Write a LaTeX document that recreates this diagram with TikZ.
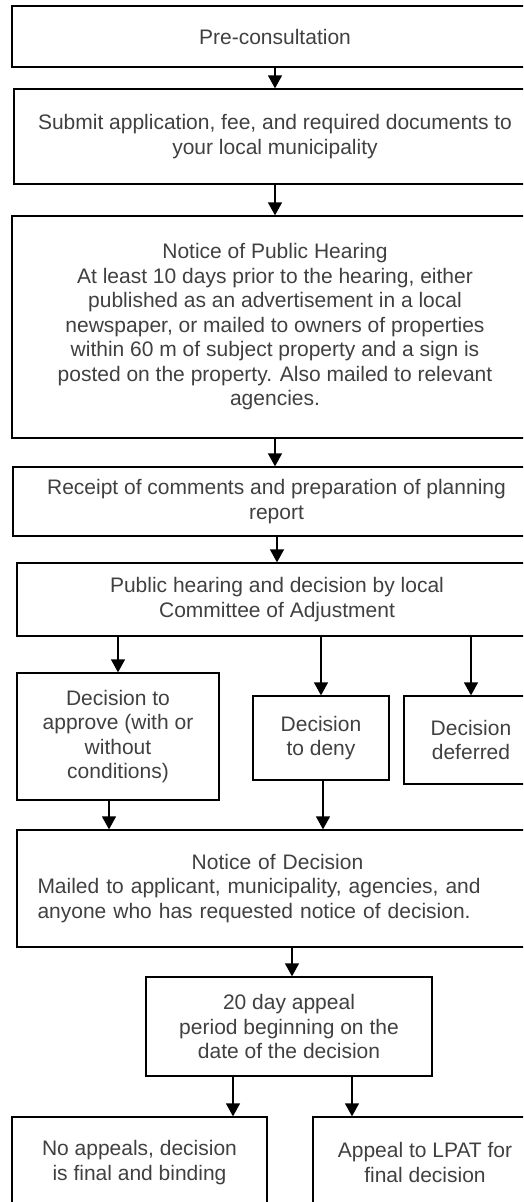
\documentclass[tikz,border=0pt]{standalone}
\usepackage{fontspec}
\setmainfont{Liberation Sans}
\usetikzlibrary{arrows.meta}
\definecolor{txtgray}{RGB}{64,64,64}
\tikzset{
  box/.style={draw,line width=1.3pt,align=center,inner sep=0pt,text=txtgray,
    font=\fontsize{21}{24.5}\selectfont},
  arr/.style={line width=1.3pt,-{Triangle[width=14pt,length=13pt]}}
}
\begin{document}
\begin{tikzpicture}[x=1pt,y=-1pt]
	\useasboundingbox (0,0) rectangle (523,1202);
	\clip (0,0) rectangle (523,1202);
	\node[box,minimum width=526pt,minimum height=61pt] (pre) at (275,36.5) {Pre-consultation};
	\node[box,minimum width=522pt,minimum height=95pt] (submit) at (275,136.5) {Submit application, fee, and required documents to\\your local municipality};
	\node[box,minimum width=526pt,minimum height=222pt] (notice) at (275,327) {Notice of Public Hearing\\At least 10 days prior to the hearing, either\\published as an advertisement in a local\\newspaper, or mailed to owners of properties\\within 60 m of subject property and a sign is\\posted on the property. Also mailed to relevant\\agencies.};
	\node[box,minimum width=527pt,minimum height=69pt] (receipt) at (276.5,501.5) {Receipt of comments and preparation of planning\\report};
	\node[box,minimum width=520pt,minimum height=73pt] (hearing) at (277,599.5) {Public hearing and decision by local\\Committee of Adjustment};
	\node[box,minimum width=202pt,minimum height=127pt] (approve) at (118,736.5) {Decision to\\approve (with or\\without\\conditions)};
	\node[box,minimum width=136pt,minimum height=84pt] (deny) at (321,738) {Decision\\to deny};
	\node[box,minimum width=134pt,minimum height=88pt] (deferred) at (471,740) {Decision\\deferred};
	\node[box,minimum width=521pt,minimum height=117pt,text width=480pt,align=left] (decision) at (277.5,888.5) {\makebox[\linewidth]{Notice of Decision}\\Mailed to applicant, municipality, agencies, and\\anyone who has requested notice of decision.};
	\node[box,minimum width=286pt,minimum height=99pt] (appeal) at (289,1026.5) {20 day appeal\\period beginning on the\\date of the decision};
	\node[box,minimum width=255pt,minimum height=91pt] (final) at (139.5,1162.5) {No appeals, decision\\is final and binding};
	\node[box,minimum width=224pt,minimum height=91pt] (lpat) at (425,1162.5) {Appeal to LPAT for\\final decision};
	% connectors
	\draw[arr] (pre.south) -- (submit.north);
	\draw[arr] (submit.south) -- (notice.north);
	\draw[arr] (notice.south) -- (notice.south |- receipt.north);
	\draw[arr] (receipt.south -| hearing) -- (hearing.north);
	\draw[arr] (hearing.south -| approve) -- (approve.north);
	\draw[arr] (hearing.south -| deny) -- (deny.north);
	\draw[arr] (hearing.south -| deferred) -- (deferred.north);
	\draw[arr] (approve.south -| 109,0) -- (decision.north -| 109,0);
	\draw[arr] (deny.south -| 323,0) -- (decision.north -| 323,0);
	\draw[arr] (decision.south -| 292,0) -- (appeal.north -| 292,0);
	\draw[arr] (appeal.south -| 233,0) -- (final.north -| 233,0);
	\draw[arr] (appeal.south -| 352,0) -- (lpat.north -| 352,0);
\end{tikzpicture}
\end{document}
